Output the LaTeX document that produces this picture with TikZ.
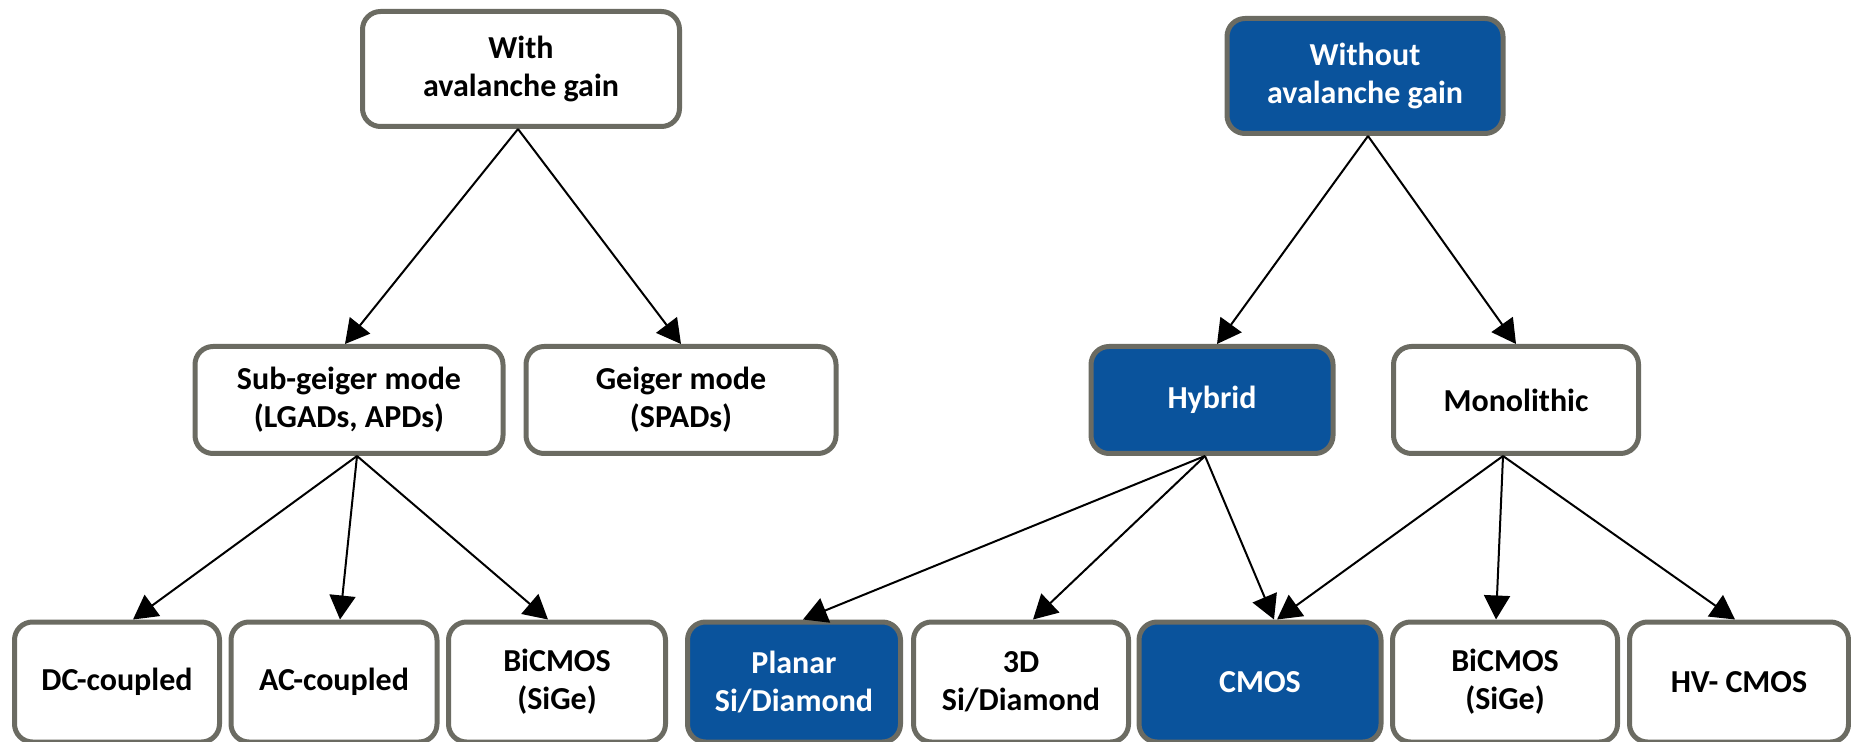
\documentclass[tikz,border=0pt]{standalone}
\usepackage{fontspec}
\setmainfont{Carlito}
\usetikzlibrary{arrows.meta}
\definecolor{boxblue}{RGB}{10,83,156}
\definecolor{boxgrey}{RGB}{107,107,98}
\begin{document}
\begin{tikzpicture}[x=0.5pt,y=-0.5pt,
  box/.style={draw=boxgrey, line width=2.5pt, rounded corners=9pt, fill=white,
    align=center, font=\fontsize{16}{19}\selectfont\bfseries, inner sep=0pt},
  bluebox/.style={box, fill=boxblue, text=white},
  topbox/.style={minimum height=57.5pt},
  midbox/.style={minimum height=53.5pt},
  botbox/.style={minimum height=60pt},
  conn/.style={line width=1pt, -{Triangle[length=12pt,width=13pt]}}]
\useasboundingbox (0,0) rectangle (1851,742);
% top row
\node[box, topbox, minimum width=158.5pt] (with) at (521,69) {With\\avalanche gain};
\node[bluebox, topbox, minimum width=138pt] (without) at (1365,76) {Without\\avalanche gain};
% middle row
\node[box, midbox, minimum width=154pt] (subg) at (349,400) {Sub-geiger mode\\(LGADs, APDs)};
\node[box, midbox, minimum width=155pt] (geiger) at (681,400) {Geiger mode\\(SPADs)};
\node[bluebox, midbox, minimum width=121pt] (hybrid) at (1212,400) {Hybrid};
\node[box, midbox, minimum width=122.5pt] (mono) at (1516,400) {Monolithic};
% bottom row
\node[box, botbox, minimum width=102.5pt] (dc) at (117,682) {DC-coupled};
\node[box, botbox, minimum width=103pt] (ac) at (334,682) {AC-coupled};
\node[box, botbox, minimum width=108.5pt] (bicl) at (557,682) {BiCMOS\\(SiGe)};
\node[bluebox, botbox, minimum width=106.5pt] (planar) at (794,682) {Planar\\Si/Diamond};
\node[box, botbox, minimum width=107.5pt] (threed) at (1021,682) {3D\\Si/Diamond};
\node[bluebox, botbox, minimum width=121pt] (cmos) at (1260,682) {CMOS};
\node[box, botbox, minimum width=112.5pt] (bicr) at (1505,682) {BiCMOS\\(SiGe)};
\node[box, botbox, minimum width=109.5pt] (hv) at (1739,682) {HV- CMOS};
% connectors
\draw[conn] ([xshift=-1.5pt]with.south) -- ([xshift=-2pt]subg.north);
\draw[conn] ([xshift=-1.5pt]with.south) -- (geiger.north);
\draw[conn] ([xshift=1.5pt]without.south) -- ([xshift=2.5pt]hybrid.north);
\draw[conn] ([xshift=1.5pt]without.south) -- (mono.north);
\draw[conn] ([xshift=4pt]subg.south) -- ([xshift=8pt]dc.north);
\draw[conn] ([xshift=4pt]subg.south) -- ([xshift=3pt]ac.north);
\draw[conn] ([xshift=4pt]subg.south) -- ([xshift=-4.5pt]bicl.north);
\draw[conn] ([xshift=-3.5pt]hybrid.south) -- ([xshift=4.5pt]planar.north);
\draw[conn] ([xshift=-3.5pt]hybrid.south) -- ([xshift=6pt]threed.north);
\draw[conn] ([xshift=-3.5pt]hybrid.south) -- ([xshift=7pt]cmos.north);
\draw[conn] ([xshift=-6.5pt]mono.south) -- ([xshift=8.5pt]cmos.north);
\draw[conn] ([xshift=-6.5pt]mono.south) -- ([xshift=-4.5pt]bicr.north);
\draw[conn] ([xshift=-6.5pt]mono.south) -- ([xshift=-2pt]hv.north);
\end{tikzpicture}
\end{document}
